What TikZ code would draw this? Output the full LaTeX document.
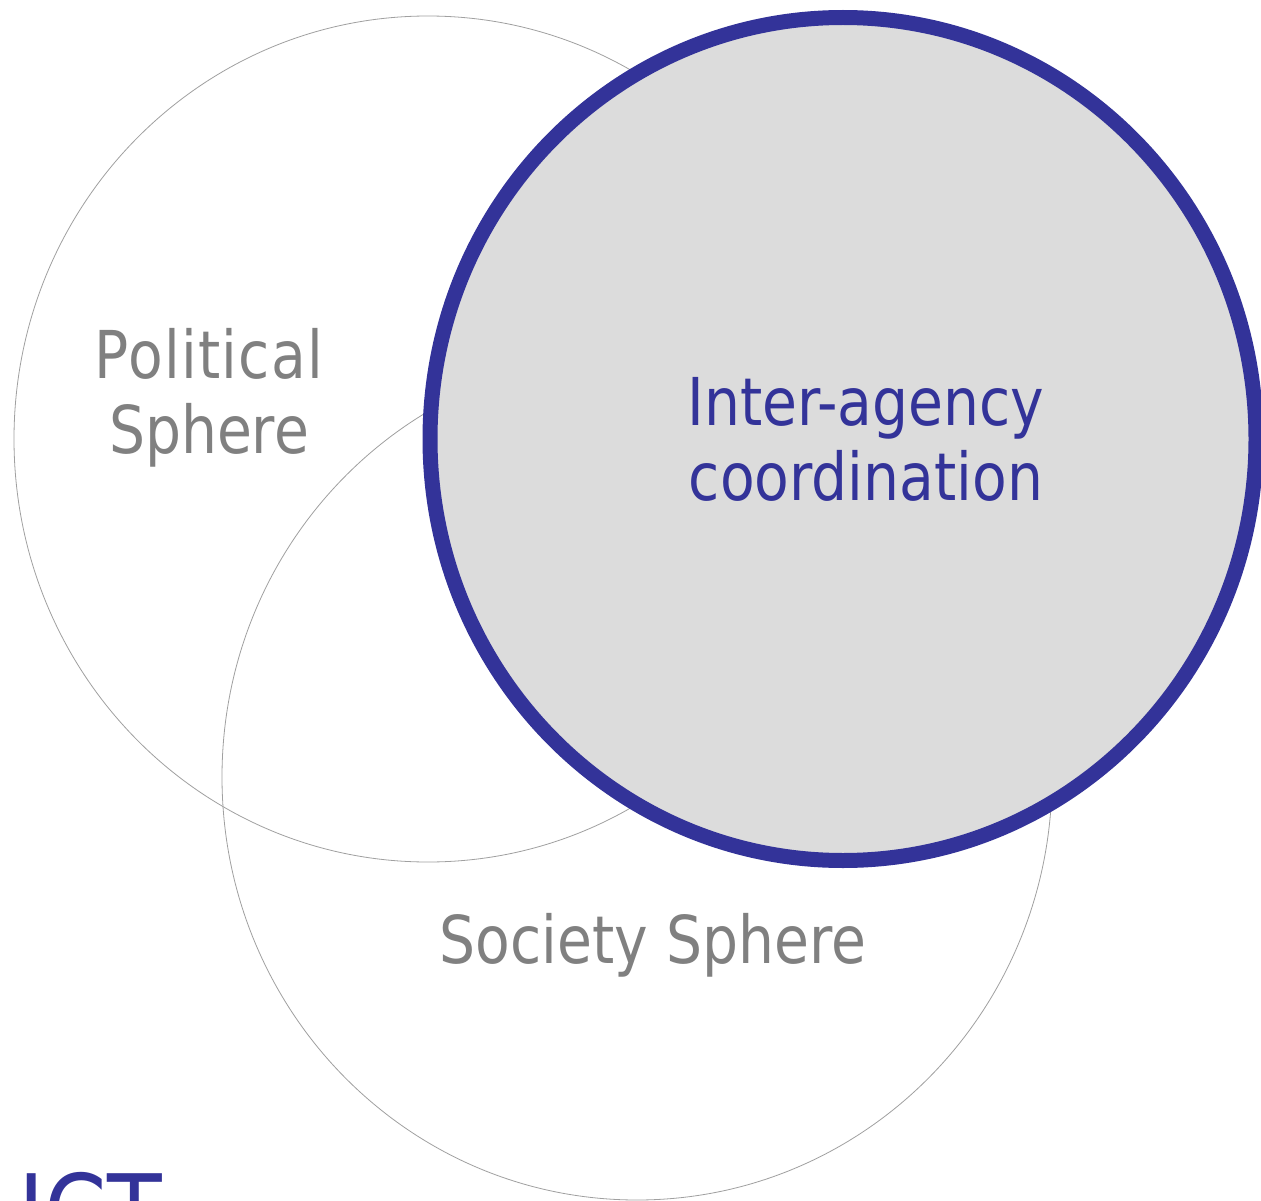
\documentclass[tikz,border=0pt]{standalone}
\usepackage{fontspec}
\setmainfont[FakeStretch=0.86]{DejaVu Sans}
\definecolor{venblue}{HTML}{333399}
\definecolor{venfill}{HTML}{DCDCDC}
\definecolor{venline}{HTML}{A0A0A0}
\definecolor{ventext}{HTML}{808080}
\begin{document}
\begin{tikzpicture}[x=1pt,y=-1pt,
  thinring/.style={draw=venline,line width=0.8pt},
  mainring/.style={draw=venblue,fill=venfill,line width=15pt},
  graylabel/.style={text=ventext,font=\fontsize{66}{76}\selectfont,anchor=base,inner sep=0pt},
  bluelabel/.style={text=venblue,font=\fontsize{66}{76}\selectfont,anchor=base,inner sep=0pt}]
\useasboundingbox (0,0) rectangle (1261,1201);
\clip (0,0) rectangle (1261,1201);
\fill[white] (0,0) rectangle (1261,1201);
\draw[thinring] (428,439) ellipse [x radius=414pt, y radius=423pt];
\draw[thinring] (637,777) ellipse [x radius=415pt, y radius=423pt];
\draw[mainring] (843,439) ellipse [x radius=413pt, y radius=421.5pt];
\node[graylabel] (pol1) at (209,378) {\addfontfeatures{LetterSpace=2}Political};
\node[graylabel] (pol2) at (209,453) {Sphere};
\node[bluelabel] (ia1) at (866,425) {Inter-agency};
\node[bluelabel] (ia2) at (866,500) {coordination};
\node[graylabel] (soc) at (653,963) {Society Sphere};
\node[text=venblue,font=\fontsize{104}{114}\selectfont,anchor=base west,inner sep=0pt] (ict) at (18,1249) {ICT};
\end{tikzpicture}
\end{document}
